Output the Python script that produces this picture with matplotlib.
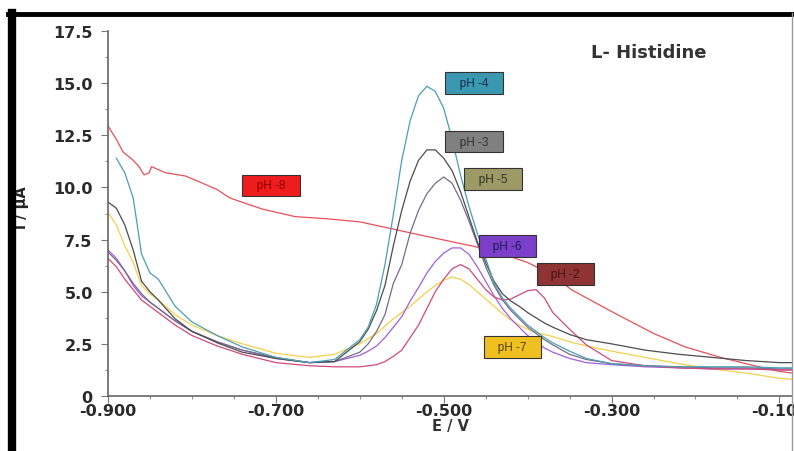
import numpy as np
import matplotlib.pyplot as plt
from matplotlib.lines import Line2D

plt.rcParams["font.family"] = ["DejaVu Sans"]

# potential grid (V) shared by the peak curves
E = [-0.900, -0.890, -0.880, -0.870, -0.860, -0.850, -0.840, -0.820, -0.800, -0.770,
     -0.740, -0.700, -0.660, -0.630, -0.600, -0.590, -0.580, -0.570, -0.560, -0.550,
     -0.540, -0.530, -0.520, -0.510, -0.500, -0.490, -0.480, -0.470, -0.460, -0.450,
     -0.440, -0.430, -0.420, -0.410, -0.400, -0.390, -0.380, -0.370, -0.350, -0.330,
     -0.300, -0.260, -0.220, -0.180, -0.140, -0.100, -0.085]

# currents (uA)
ph4 = [np.nan, 11.4, 10.7, 9.5, 6.8, 5.9, 5.6, 4.3, 3.55, 2.9,
       2.35, 1.85, 1.6, 1.75, 2.7, 3.3, 4.4, 6.3, 8.7, 11.3,
       13.2, 14.4, 14.85, 14.6, 13.8, 12.3, 10.6, 9.1, 7.8, 6.6,
       5.4, 4.7, 4.2, 3.8, 3.4, 3.1, 2.8, 2.55, 2.15, 1.8,
       1.55, 1.45, 1.4, 1.4, 1.4, 1.35, 1.35]
ph3 = [9.3, 9.0, 8.2, 7.0, 5.5, 5.0, 4.6, 3.7, 3.1, 2.55,
       2.1, 1.8, 1.6, 1.65, 2.6, 3.2, 4.1, 5.3, 7.2, 8.9,
       10.3, 11.3, 11.8, 11.8, 11.4, 10.8, 9.8, 8.6, 7.4, 6.4,
       5.5, 4.9, 4.55, 4.3, 4.0, 3.75, 3.5, 3.3, 2.95, 2.7,
       2.5, 2.2, 2.0, 1.85, 1.7, 1.6, 1.6]
ph5 = [6.9, 6.5, 6.0, 5.4, 4.9, 4.5, 4.2, 3.6, 3.1, 2.6,
       2.2, 1.85, 1.6, 1.65, 2.1, 2.5, 3.1, 3.9, 5.4, 6.3,
       7.8, 8.9, 9.7, 10.2, 10.5, 10.2, 9.4, 8.4, 7.3, 6.2,
       5.3, 4.6, 4.1, 3.7, 3.3, 3.0, 2.7, 2.45, 2.0, 1.75,
       1.55, 1.45, 1.4, 1.35, 1.35, 1.3, 1.3]
ph6 = [7.0, 6.6, 6.0, 5.3, 4.8, 4.5, 4.2, 3.6, 3.1, 2.6,
       2.2, 1.8, 1.6, 1.65, 1.95, 2.15, 2.4, 2.8, 3.3, 3.8,
       4.55, 5.2, 5.9, 6.45, 6.85, 7.1, 7.1, 6.8, 6.2, 5.5,
       4.8, 4.2, 3.7, 3.3, 2.9, 2.6, 2.3, 2.1, 1.8, 1.6,
       1.5, 1.4, 1.35, 1.3, 1.3, 1.25, 1.25]
ph2 = [6.6, 6.2, 5.6, 5.1, 4.6, 4.3, 4.0, 3.4, 2.9, 2.4,
       2.0, 1.6, 1.45, 1.4, 1.4, 1.45, 1.5, 1.65, 1.9, 2.2,
       2.8, 3.4, 4.2, 5.0, 5.6, 6.1, 6.3, 6.1, 5.6, 5.1,
       4.75, 4.6, 4.65, 4.85, 5.05, 5.1, 4.7, 4.0, 3.2, 2.45,
       1.7, 1.45, 1.35, 1.3, 1.3, 1.25, 1.25]
ph7 = [8.8, 8.2, 7.2, 6.4, 5.3, 4.9, 4.6, 3.9, 3.4, 2.9,
       2.5, 2.05, 1.85, 2.0, 2.5, 2.75, 3.0, 3.35, 3.7, 4.0,
       4.3, 4.65, 5.0, 5.3, 5.55, 5.7, 5.6, 5.35, 5.0, 4.65,
       4.3, 3.95, 3.65, 3.4, 3.2, 3.05, 2.95, 2.85, 2.6, 2.4,
       2.15, 1.85, 1.55, 1.3, 1.1, 0.85, 0.8]

# pH 8 has no peak, read on its own grid
E8 = [-0.900, -0.890, -0.882, -0.870, -0.863, -0.857, -0.851, -0.848, -0.840, -0.831,
      -0.808, -0.793, -0.770, -0.755, -0.730, -0.715, -0.677, -0.640, -0.600, -0.560,
      -0.520, -0.467, -0.440, -0.400, -0.370, -0.348, -0.300, -0.250, -0.212, -0.170,
      -0.140, -0.103, -0.085]
ph8 = [12.95, 12.3, 11.7, 11.3, 11.0, 10.6, 10.7, 11.0, 10.85, 10.7,
       10.55, 10.3, 9.9, 9.5, 9.15, 8.95, 8.6, 8.5, 8.35, 8.0,
       7.65, 7.2, 6.95, 6.4, 5.8, 5.1, 4.05, 3.0, 2.35, 1.85,
       1.55, 1.2, 1.1]

series = [ph7, ph6, ph5, ph2, ph3, ph4]
line_colors = ["#f5d04a", "#a060d8", "#7a6a8a", "#d04a7a", "#4d4d4d", "#4a9fb4"]

labels = ["pH -8", "pH -4", "pH -3", "pH -5", "pH -6", "pH -2", "pH -7"]
label_pos = [(-0.706, 10.1), (-0.464, 15.0), (-0.464, 12.2), (-0.441, 10.4),
             (-0.424, 7.2), (-0.355, 5.85), (-0.418, 2.35)]
label_face = ["#ee1c1c", "#3a98b0", "#808080", "#9d9a68", "#7b3fc9", "#8e3434", "#f0c020"]
label_text = ["#8b0000", "#1a2a50", "#303030", "#303020", "#1a1a50", "#401010", "#504010"]

fig = plt.figure(figsize=(7.94, 4.52), dpi=100)
ax = fig.add_axes([108 / 794, 1 - 397 / 452, (792 - 108) / 794, (397 - 32) / 452])

ax.plot(E8, ph8, color="#e8505a", lw=0.9)
for y, c in zip(series, line_colors):
    ax.plot(E, y, color=c, lw=0.9)

for t, (x, y), fc, tc in zip(labels, label_pos, label_face, label_text):
    ax.text(x, y, "   " + t + "   ", ha="center", va="center", fontsize=8.5, color=tc,
            family="Liberation Sans",
            bbox=dict(boxstyle="square,pad=0.4", fc=fc, ec="#333333", lw=0.8))

ax.text(-0.256, 16.5, "L- Histidine", ha="center", va="center",
        fontsize=13, fontweight="bold", color="#333333")

ax.set_xlim(-0.9, -0.085)
ax.set_ylim(0, 17.5)
ax.set_xticks([-0.9, -0.7, -0.5, -0.3, -0.1])
ax.set_xticklabels(["-0.900", "-0.700", "-0.500", "-0.300", "-0.100"])
ax.set_xticks(np.arange(-0.9, -0.08, 0.05), minor=True)
ax.set_yticks(np.arange(0, 17.6, 2.5))
ax.set_yticklabels(["0", "2.5", "5.0", "7.5", "10.0", "12.5", "15.0", "17.5"])
ax.set_yticks(np.arange(0, 17.6, 1.25), minor=True)
ax.tick_params(which="both", direction="out", color="#777777", labelsize=11.5)
ax.tick_params(which="major", length=5)
ax.tick_params(which="minor", length=2.5)
for lab in ax.get_xticklabels() + ax.get_yticklabels():
    lab.set_fontweight("bold")
    lab.set_color("#2a2a2a")
ax.tick_params(axis="x", pad=0)
ax.tick_params(axis="y", pad=6)

for s in ["top", "right"]:
    ax.spines[s].set_visible(False)
for s in ["left", "bottom"]:
    ax.spines[s].set_color("#666666")
    ax.spines[s].set_linewidth(1.2)

ax.set_xlabel("E / V", fontsize=10.5, fontweight="bold", color="#333333", labelpad=0)
ax.set_ylabel("i / µA", fontsize=10.5, fontweight="bold", color="#222222")
ax.yaxis.set_label_coords(-0.115, 0.52)

# outer frame of the picture
fig.add_artist(Line2D([8 / 794, 1], [1 - 15 / 452, 1 - 15 / 452], transform=fig.transFigure,
                      color="black", lw=3.5))
fig.add_artist(Line2D([12 / 794, 12 / 794], [0, 1 - 14 / 452], transform=fig.transFigure,
                      color="black", lw=6))
fig.add_artist(Line2D([792 / 794, 792 / 794], [0, 1 - 14 / 452], transform=fig.transFigure,
                      color="#999999", lw=1))

fig.savefig("out.png", dpi=100)
